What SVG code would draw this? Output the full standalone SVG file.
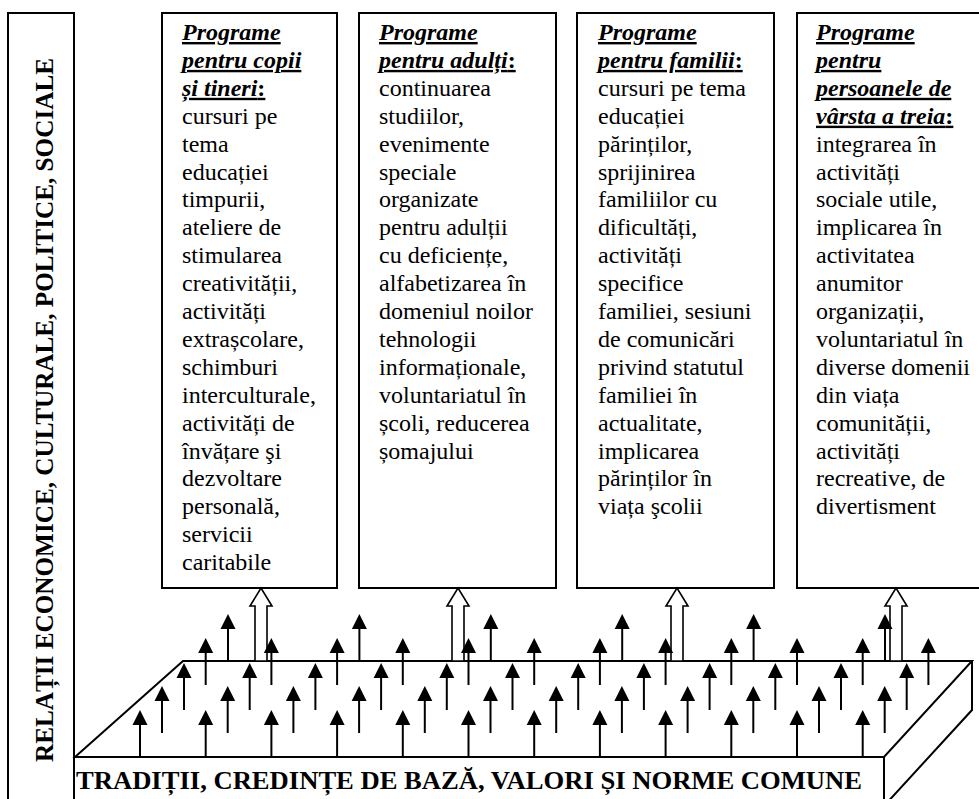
<svg xmlns="http://www.w3.org/2000/svg" xmlns:xlink="http://www.w3.org/1999/xlink" width="979" height="799" viewBox="0 0 979 799">
  <style>
    .frame { fill: #fff; stroke: #000; stroke-width: 2; }
    .edge { fill: none; stroke: #000; stroke-width: 2; stroke-linejoin: miter; }
    .body { font-family: "Liberation Serif", "Times New Roman", serif; font-size: 24px; fill: #000; }
    .hd { font-family: "Liberation Serif", "Times New Roman", serif; font-size: 24px; font-weight: bold; font-style: italic; text-decoration: underline; fill: #000; }
    .colon { font-style: normal; }
    .caption { font-family: "Liberation Serif", "Times New Roman", serif; font-size: 26px; font-weight: bold; fill: #000; }
    .hollow { fill: #fff; stroke: #000; stroke-width: 1.6; }
  </style>
  <defs>
    <!-- small solid up-arrow, tip at (0,0), tail at (0,47) -->
    <g id="up">
      <line x1="0" y1="47" x2="0" y2="13" stroke="#000" stroke-width="2"/>
      <polygon points="0,0 7.5,15 -7.5,15" fill="#000"/>
    </g>
    <!-- block arrow, tip at (0,0), tail at (0,73) -->
    <path id="block" class="hollow" d="M-6,73 V18 H-11 L0,0 L11,18 H6 V73 Z"/>
  </defs>

  <!-- side bar -->
  <g id="side">
    <rect class="frame" x="8" y="13" width="66" height="800"/>
    <text class="caption" transform="translate(53,762) rotate(-90)" x="0" y="0" textLength="704" lengthAdjust="spacingAndGlyphs">RELAȚII ECONOMICE, CULTURALE, POLITICE, SOCIALE</text>
  </g>

  <!-- program boxes -->
  <g id="box-copii">
    <rect class="frame" x="162" y="13" width="175" height="575"/>
    <text class="hd" x="182" y="40">Programe</text>
    <text class="hd" x="182" y="67.9">pentru copii</text>
    <text class="hd" x="182" y="95.8">și tineri<tspan class="colon">:</tspan></text>
    <text class="body" x="182">
      <tspan x="182" y="123.7">cursuri pe</tspan>
      <tspan x="182" y="151.6">tema</tspan>
      <tspan x="182" y="179.5">educației</tspan>
      <tspan x="182" y="207.4">timpurii,</tspan>
      <tspan x="182" y="235.3">ateliere de</tspan>
      <tspan x="182" y="263.2">stimularea</tspan>
      <tspan x="182" y="291.1">creativității,</tspan>
      <tspan x="182" y="319">activități</tspan>
      <tspan x="182" y="346.9">extrașcolare,</tspan>
      <tspan x="182" y="374.8">schimburi</tspan>
      <tspan x="182" y="402.7">interculturale,</tspan>
      <tspan x="182" y="430.6">activități de</tspan>
      <tspan x="182" y="458.5">învățare şi</tspan>
      <tspan x="182" y="486.4">dezvoltare</tspan>
      <tspan x="182" y="514.3">personală,</tspan>
      <tspan x="182" y="542.2">servicii</tspan>
      <tspan x="182" y="570.1">caritabile</tspan>
    </text>
  </g>

  <g id="box-adulti">
    <rect class="frame" x="359" y="13" width="197" height="575"/>
    <text class="hd" x="379" y="40">Programe</text>
    <text class="hd" x="379" y="67.9">pentru adulți<tspan class="colon">:</tspan></text>
    <text class="body" x="379">
      <tspan x="379" y="95.8">continuarea</tspan>
      <tspan x="379" y="123.7">studiilor,</tspan>
      <tspan x="379" y="151.6">evenimente</tspan>
      <tspan x="379" y="179.5">speciale</tspan>
      <tspan x="379" y="207.4">organizate</tspan>
      <tspan x="379" y="235.3">pentru adulții</tspan>
      <tspan x="379" y="263.2">cu deficiențe,</tspan>
      <tspan x="379" y="291.1">alfabetizarea în</tspan>
      <tspan x="379" y="319">domeniul noilor</tspan>
      <tspan x="379" y="346.9">tehnologii</tspan>
      <tspan x="379" y="374.8">informaționale,</tspan>
      <tspan x="379" y="402.7">voluntariatul în</tspan>
      <tspan x="379" y="430.6">școli, reducerea</tspan>
      <tspan x="379" y="458.5">șomajului</tspan>
    </text>
  </g>

  <g id="box-familii">
    <rect class="frame" x="577" y="13" width="197" height="575"/>
    <text class="hd" x="598" y="40">Programe</text>
    <text class="hd" x="598" y="67.9">pentru familii<tspan class="colon">:</tspan></text>
    <text class="body" x="598">
      <tspan x="598" y="95.8">cursuri pe tema</tspan>
      <tspan x="598" y="123.7">educației</tspan>
      <tspan x="598" y="151.6">părinților,</tspan>
      <tspan x="598" y="179.5">sprijinirea</tspan>
      <tspan x="598" y="207.4">familiilor cu</tspan>
      <tspan x="598" y="235.3">dificultăți,</tspan>
      <tspan x="598" y="263.2">activități</tspan>
      <tspan x="598" y="291.1">specifice</tspan>
      <tspan x="598" y="319">familiei, sesiuni</tspan>
      <tspan x="598" y="346.9">de comunicări</tspan>
      <tspan x="598" y="374.8">privind statutul</tspan>
      <tspan x="598" y="402.7">familiei în</tspan>
      <tspan x="598" y="430.6">actualitate,</tspan>
      <tspan x="598" y="458.5">implicarea</tspan>
      <tspan x="598" y="486.4">părinților în</tspan>
      <tspan x="598" y="514.3">viața şcolii</tspan>
    </text>
  </g>

  <g id="box-varstnici">
    <rect class="frame" x="797" y="13" width="190" height="575"/>
    <text class="hd" x="816" y="40">Programe</text>
    <text class="hd" x="816" y="67.9">pentru</text>
    <text class="hd" x="816" y="95.8">persoanele de</text>
    <text class="hd" x="816" y="123.7">vârsta a treia<tspan class="colon">:</tspan></text>
    <text class="body" x="816">
      <tspan x="816" y="151.6">integrarea în</tspan>
      <tspan x="816" y="179.5">activități</tspan>
      <tspan x="816" y="207.4">sociale utile,</tspan>
      <tspan x="816" y="235.3">implicarea în</tspan>
      <tspan x="816" y="263.2">activitatea</tspan>
      <tspan x="816" y="291.1">anumitor</tspan>
      <tspan x="816" y="319">organizații,</tspan>
      <tspan x="816" y="346.9">voluntariatul în</tspan>
      <tspan x="816" y="374.8">diverse domenii</tspan>
      <tspan x="816" y="402.7">din viața</tspan>
      <tspan x="816" y="430.6">comunității,</tspan>
      <tspan x="816" y="458.5">activități</tspan>
      <tspan x="816" y="486.4">recreative, de</tspan>
      <tspan x="816" y="514.3">divertisment</tspan>
    </text>
  </g>

  <!-- base slab -->
  <g id="base">
    <polygon class="edge" points="75,757 183,661 972,661 884,757"/>
    <polyline class="edge" points="972,661 972,710 884,806"/>
    <line class="edge" x1="884" y1="757" x2="884" y2="805"/>
    <text class="caption" x="76" y="789" textLength="786" lengthAdjust="spacingAndGlyphs">TRADIȚII, CREDINȚE DE BAZĂ, VALORI ȘI NORME COMUNE</text>
  </g>

  <!-- connectors -->
  <g id="connectors">
    <use xlink:href="#block" x="261" y="588"/>
    <use xlink:href="#block" x="458" y="588"/>
    <use xlink:href="#block" x="677" y="588"/>
    <use xlink:href="#block" x="896" y="588"/>

    <!-- row A -->
    <use xlink:href="#up" x="140" y="710"/>
    <use xlink:href="#up" x="205.7" y="710"/>
    <use xlink:href="#up" x="271.4" y="710"/>
    <use xlink:href="#up" x="337.1" y="710"/>
    <use xlink:href="#up" x="402.8" y="710"/>
    <use xlink:href="#up" x="468.5" y="710"/>
    <use xlink:href="#up" x="534.2" y="710"/>
    <use xlink:href="#up" x="599.9" y="710"/>
    <use xlink:href="#up" x="665.6" y="710"/>
    <use xlink:href="#up" x="731.3" y="710"/>
    <use xlink:href="#up" x="797" y="710"/>
    <use xlink:href="#up" x="862.7" y="710"/>
    <!-- row B -->
    <use xlink:href="#up" x="162" y="686"/>
    <use xlink:href="#up" x="227.7" y="686"/>
    <use xlink:href="#up" x="293.4" y="686"/>
    <use xlink:href="#up" x="359.1" y="686"/>
    <use xlink:href="#up" x="424.8" y="686"/>
    <use xlink:href="#up" x="490.5" y="686"/>
    <use xlink:href="#up" x="556.2" y="686"/>
    <use xlink:href="#up" x="621.9" y="686"/>
    <use xlink:href="#up" x="687.6" y="686"/>
    <use xlink:href="#up" x="753.3" y="686"/>
    <use xlink:href="#up" x="819" y="686"/>
    <use xlink:href="#up" x="884.7" y="686"/>
    <!-- row C -->
    <use xlink:href="#up" x="184" y="663"/>
    <use xlink:href="#up" x="249.7" y="663"/>
    <use xlink:href="#up" x="315.4" y="663"/>
    <use xlink:href="#up" x="381.1" y="663"/>
    <use xlink:href="#up" x="446.8" y="663"/>
    <use xlink:href="#up" x="512.5" y="663"/>
    <use xlink:href="#up" x="578.2" y="663"/>
    <use xlink:href="#up" x="643.9" y="663"/>
    <use xlink:href="#up" x="709.6" y="663"/>
    <use xlink:href="#up" x="775.3" y="663"/>
    <use xlink:href="#up" x="841" y="663"/>
    <use xlink:href="#up" x="906.7" y="663"/>
    <!-- row D -->
    <use xlink:href="#up" x="205.7" y="638"/>
    <use xlink:href="#up" x="271.4" y="638"/>
    <use xlink:href="#up" x="337.1" y="638"/>
    <use xlink:href="#up" x="402.8" y="638"/>
    <use xlink:href="#up" x="468.5" y="638"/>
    <use xlink:href="#up" x="534.2" y="638"/>
    <use xlink:href="#up" x="599.9" y="638"/>
    <use xlink:href="#up" x="665.6" y="638"/>
    <use xlink:href="#up" x="731.3" y="638"/>
    <use xlink:href="#up" x="797" y="638"/>
    <use xlink:href="#up" x="862.7" y="638"/>
    <use xlink:href="#up" x="928.4" y="638"/>
    <!-- row E -->
    <use xlink:href="#up" x="228" y="614"/>
    <use xlink:href="#up" x="359.4" y="614"/>
    <use xlink:href="#up" x="490.8" y="614"/>
    <use xlink:href="#up" x="622.2" y="614"/>
    <use xlink:href="#up" x="753.6" y="614"/>
    <use xlink:href="#up" x="885" y="614"/>
  </g>
</svg>
